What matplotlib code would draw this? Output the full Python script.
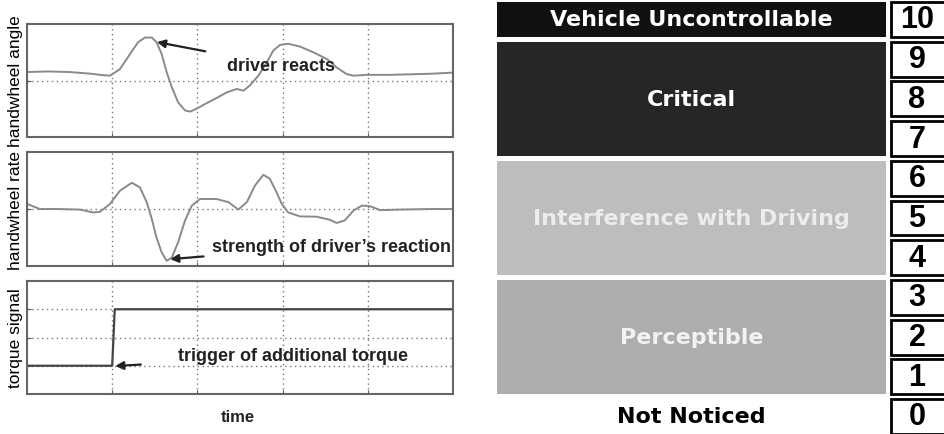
import matplotlib.pyplot as plt
from matplotlib.patches import Rectangle

# left: recorded signals (time in arbitrary units 0..10)
angle_t = [0, 0.5, 1.0, 1.5, 1.71, 1.95, 2.18, 2.42, 2.61, 2.77, 2.93, 3.04, 3.16,
           3.28, 3.40, 3.55, 3.71, 3.83, 3.98, 4.22, 4.45, 4.69, 4.92, 5.08, 5.23,
           5.43, 5.63, 5.78, 5.94, 6.13, 6.41, 6.72, 7.04, 7.27, 7.50, 7.66, 7.97,
           8.5, 9.0, 9.5, 10]
angle_v = [0.15, 0.16, 0.15, 0.12, 0.10, 0.085, 0.20, 0.47, 0.68, 0.76, 0.76, 0.68,
           0.47, 0.145, -0.12, -0.39, -0.53, -0.55, -0.50, -0.40, -0.31, -0.21,
           -0.15, -0.18, -0.09, 0.085, 0.32, 0.53, 0.63, 0.65, 0.60, 0.50, 0.38,
           0.23, 0.115, 0.085, 0.10, 0.10, 0.11, 0.12, 0.14]

rate_t = [0, 0.3, 0.7, 1.24, 1.55, 1.71, 1.95, 2.18, 2.46, 2.65, 2.81, 2.93, 3.04,
          3.16, 3.28, 3.40, 3.55, 3.71, 3.87, 4.06, 4.45, 4.73, 4.96, 5.16, 5.35,
          5.55, 5.70, 5.86, 5.98, 6.13, 6.41, 6.80, 7.11, 7.27, 7.46, 7.66, 7.86,
          8.05, 8.29, 8.76, 9.5, 10]
rate_v = [0.09, 0.0, 0.0, -0.01, -0.06, -0.05, 0.09, 0.32, 0.46, 0.38, 0.12, -0.175,
          -0.50, -0.76, -0.91, -0.85, -0.58, -0.2, 0.06, 0.175, 0.175, 0.12, -0.01,
          0.12, 0.41, 0.60, 0.53, 0.29, 0.09, -0.06, -0.13, -0.135, -0.19, -0.245,
          -0.20, -0.03, 0.06, 0.05, -0.02, -0.01, 0.0, 0.0]

torque_t = [0, 2.0, 2.06, 10]
torque_v = [1, 1, 3, 3]

# right: rating scale
ratings = list(range(11))
cat_names = ["Vehicle Uncontrollable", "Critical", "Interference with Driving",
             "Perceptible", "Not Noticed"]
cat_lo = [10, 7, 4, 1, 0]
cat_hi = [10, 9, 6, 3, 0]
cat_fill = ["#111111", "#262626", "#bdbdbd", "#adadad", None]
cat_text = ["white", "white", "#ececec", "#f2f2f2", "black"]

W, H = 944, 435
fig = plt.figure(figsize=(W / 100, H / 100), dpi=100)


def px_axes(x0, y0, x1, y1):
    return fig.add_axes([x0 / W, 1 - y1 / H, (x1 - x0) / W, (y1 - y0) / H])


def style(ax, ylim, yticks):
    ax.set_xlim(0, 10)
    ax.set_ylim(*ylim)
    ax.set_xticks([2, 4, 6, 8])
    ax.set_yticks(yticks)
    ax.tick_params(length=3, direction="in", labelbottom=False, labelleft=False,
                   color="#555555")
    ax.grid(True, linestyle=(0, (1, 2.5)), color="#777777", linewidth=1)
    for s in ax.spines.values():
        s.set_color("#666666")
        s.set_linewidth(1.5)


lab_font = dict(family="Liberation Sans", fontsize=12.5)
ann_font = dict(family="Liberation Sans", fontsize=13, fontweight="bold", color="#222222")
arrow = dict(arrowstyle="-|>", color="#222222", lw=1.6, mutation_scale=12)

ax1 = px_axes(27, 25, 453, 138)
ax1.plot(angle_t, angle_v, color="#8a8a8a", lw=1.4)
style(ax1, (-1, 1), [0])
ax1.set_ylabel("handwheel angle", labelpad=3, **lab_font)
ax1.annotate("driver reacts", xy=(3.05, 0.68), xytext=(4.7, 0.26), va="center",
             arrowprops=dict(arrow, shrinkA=14, shrinkB=0), **ann_font)

ax2 = px_axes(27, 153, 453, 267)
ax2.plot(rate_t, rate_v, color="#8a8a8a", lw=1.4)
style(ax2, (-1, 1), [0])
ax2.set_ylabel("handwheel rate", labelpad=3, **lab_font)
ax2.annotate("strength of driver\u2019s reaction", xy=(3.36, -0.88), xytext=(4.34, -0.65),
             va="center", arrowprops=dict(arrow, shrinkA=4, shrinkB=0), **ann_font)

ax3 = px_axes(27, 282, 453, 395)
ax3.plot(torque_t, torque_v, color="#444444", lw=1.6)
style(ax3, (0, 4), [1, 2, 3])
ax3.set_ylabel("torque signal", labelpad=3, **lab_font)
ax3.annotate("trigger of additional torque", xy=(2.07, 0.99), xytext=(3.55, 1.35),
             va="center", arrowprops=dict(arrow, shrinkA=25, shrinkB=0), **ann_font)
fig.text(238 / W, 1 - 418 / H, "time", ha="center", va="center",
         family="Liberation Sans", fontsize=12, fontweight="bold", color="#222222")

# right panel, x in figure pixels, y in rating units
pitch = 39.7
axr = px_axes(490, 0, W, H)
axr.set_xlim(490, W)
axr.set_ylim((417.5 - H) / pitch, 417.5 / pitch)
axr.axis("off")
half = 0.44
for name, lo, hi, fill, tc in zip(cat_names, cat_lo, cat_hi, cat_fill, cat_text):
    if fill is not None:
        axr.add_patch(Rectangle((497, lo - half), 886 - 497, hi - lo + 2 * half,
                                facecolor=fill, edgecolor="none"))
    axr.text((497 + 886) / 2, (lo + hi) / 2, name, ha="center", va="center",
             color=tc, family="DejaVu Sans", fontweight="bold", fontsize=16)
for r in ratings:
    axr.add_patch(Rectangle((891, r - half), 80, 2 * half, facecolor="white",
                            edgecolor="black", lw=2, clip_on=True))
    axr.text(917, r, str(r), ha="center", va="center", family="Liberation Sans",
             fontweight="bold", fontsize=22, color="black")

fig.savefig("out.png", dpi=100)
